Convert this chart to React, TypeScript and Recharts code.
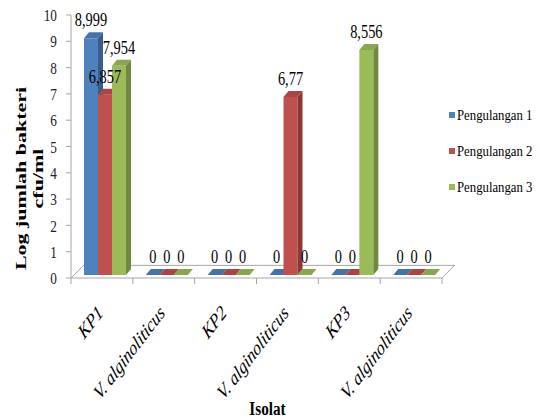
import { BarChart, Bar, XAxis, YAxis, LabelList, Legend, ReferenceArea } from "recharts";

const isolat = ["KP1", "V. alginoliticus", "KP2", "V. alginoliticus", "KP3", "V. alginoliticus"];
const pengulangan1 = [8.999, 0, 0, 0, 0, 0];
const pengulangan2 = [6.857, 0, 0, 6.77, 0, 0];
const pengulangan3 = [7.954, 0, 0, 0, 8.556, 0];
const seriesNames = ["Pengulangan 1", "Pengulangan 2", "Pengulangan 3"];
const yTicks = [0, 1, 2, 3, 4, 5, 6, 7, 8, 9, 10];

const FONT = "'Liberation Serif', 'Times New Roman', serif";
const GRID = "#a6a6a6";

// front, top, side
const palette = [
  ["#4f81bd", "#4672a8", "#385d8a"],
  ["#c0504d", "#a94542", "#8c3836"],
  ["#9bbb59", "#89a74d", "#71893f"],
];

// shift of the bar row into the floor, and depth of each bar
const SHIFT = 3;
const DX = 5;
const DY = 6;

const data = isolat.map((name, i) => ({
  name,
  p1: pengulangan1[i],
  p2: pengulangan2[i],
  p3: pengulangan3[i],
}));

function fmt(v: number): string {
  return String(v).replace(".", ",");
}

function make3DBar(front: string, top: string, side: string) {
  return (props: any) => {
    const { x, y, width, height } = props;
    const fx = x + SHIFT;
    const fy = y - SHIFT;
    const w = width;
    const h = Math.max(height, 0);
    return (
      <g>
        {h > 0 && <rect x={fx} y={fy} width={w} height={h} fill={front} />}
        <polygon
          points={`${fx},${fy} ${fx + DX},${fy - DY} ${fx + w + DX},${fy - DY} ${fx + w},${fy}`}
          fill={top}
        />
        {h > 0 && (
          <polygon
            points={`${fx + w},${fy} ${fx + w + DX},${fy - DY} ${fx + w + DX},${fy + h - DY} ${fx + w},${fy + h}`}
            fill={side}
          />
        )}
      </g>
    );
  };
}

function ValueLabel(props: any) {
  const { x, y, width, value } = props;
  const cx = x + SHIFT + width / 2;
  const by = y - SHIFT - DY - 6;
  return (
    <text
      transform={`translate(${cx},${by}) scale(0.8,1)`}
      textAnchor="middle"
      fontFamily={FONT}
      fontSize={18}
      fill="#000"
    >
      {fmt(value)}
    </text>
  );
}

function Floor(props: any) {
  const { x, y, width, height } = props;
  const d = height;
  return (
    <polygon
      points={`${x},${y + height} ${x + width},${y + height} ${x + width + d},${y} ${x + d},${y}`}
      fill="#fff"
      stroke={GRID}
      strokeWidth={1}
    />
  );
}

function YTick(props: any) {
  const { x, y, payload } = props;
  return (
    <text
      transform={`translate(${x},${y}) scale(0.78,1)`}
      textAnchor="end"
      dy="0.36em"
      fontFamily={FONT}
      fontSize={17}
      fill="#222"
    >
      {payload.value}
    </text>
  );
}

function XTick(props: any) {
  const { x, y, payload, index } = props;
  const half = payload.offset || 30.9;
  const last = index === isolat.length - 1;
  return (
    <g>
      <line x1={x - half} x2={x - half} y1={y} y2={y + 6} stroke={GRID} />
      {last && <line x1={x + half} x2={x + half} y1={y} y2={y + 6} stroke={GRID} />}
      <text
        transform={`translate(${x + 2},${y + 36}) scale(0.76,1) rotate(-45)`}
        textAnchor="end"
        fontFamily={FONT}
        fontStyle="italic"
        fontSize={20.5}
        fill="#000"
      >
        {payload.value}
      </text>
    </g>
  );
}

function YTitle(props: any) {
  const { viewBox } = props;
  const cy = viewBox.y + viewBox.height / 2 + 32;
  return (
    <g fontFamily={FONT} fontWeight="bold" fontSize={22} fill="#000">
      <text transform={`translate(26,${cy}) rotate(-90) scale(1,0.63)`} textAnchor="middle">
        Log jumlah bakteri
      </text>
      <text transform={`translate(43,${cy}) rotate(-90) scale(1,0.63)`} textAnchor="middle">
        cfu/ml
      </text>
    </g>
  );
}

function XTitle(props: any) {
  const { viewBox } = props;
  const cx = viewBox.x + viewBox.width / 2 + 11;
  return (
    <text
      transform={`translate(${cx},415) scale(0.8,1)`}
      textAnchor="middle"
      fontFamily={FONT}
      fontWeight="bold"
      fontSize={19}
      fill="#000"
    >
      Isolat
    </text>
  );
}

function LegendBox() {
  return (
    <div style={{ fontFamily: FONT }}>
      {seriesNames.map((name, i) => (
        <div key={name} style={{ display: "flex", alignItems: "center", height: 36 }}>
          <span
            style={{
              display: "inline-block",
              flex: "0 0 6px",
              width: 6,
              height: 6,
              background: palette[i][0],
              marginRight: 2,
            }}
          />
          <span
            style={{
              fontSize: 15,
              color: "#000",
              display: "inline-block",
              transform: "scaleX(0.85)",
              transformOrigin: "left center",
              whiteSpace: "nowrap",
            }}
          >
            {name}
          </span>
        </div>
      ))}
    </div>
  );
}

export default function App() {
  const keys = ["p1", "p2", "p3"];
  return (
    <div style={{ position: "absolute", left: 0, top: 0, width: 540, height: 418, background: "#fff" }}>
      <BarChart
        width={540}
        height={418}
        data={data}
        margin={{ top: 15, right: 98, bottom: 110, left: 21 }}
        barCategoryGap={10}
        barGap={0}
      >
        <ReferenceArea y1={0} y2={0.48} shape={Floor} ifOverflow="visible" />
        <XAxis
          dataKey="name"
          height={30}
          axisLine={false}
          tickLine={false}
          tickSize={0}
          tickMargin={0}
          interval={0}
          tick={XTick}
          label={{ content: XTitle }}
        />
        <YAxis
          width={50}
          domain={[0, 10]}
          ticks={yTicks}
          interval={0}
          axisLine={{ stroke: GRID }}
          tickLine={{ stroke: GRID }}
          tickSize={5}
          tickMargin={9}
          tick={YTick}
          label={{ content: YTitle }}
        />
        <Legend
          layout="vertical"
          align="center"
          verticalAlign="middle"
          wrapperStyle={{ position: "absolute", left: 449, top: 97, width: 91 }}
          content={LegendBox}
        />
        {keys.map((k, i) => (
          <Bar
            key={k}
            dataKey={k}
            name={seriesNames[i]}
            fill={palette[i][0]}
            isAnimationActive={false}
            shape={make3DBar(palette[i][0], palette[i][1], palette[i][2])}
          >
            <LabelList dataKey={k} content={ValueLabel} />
          </Bar>
        ))}
      </BarChart>
    </div>
  );
}
